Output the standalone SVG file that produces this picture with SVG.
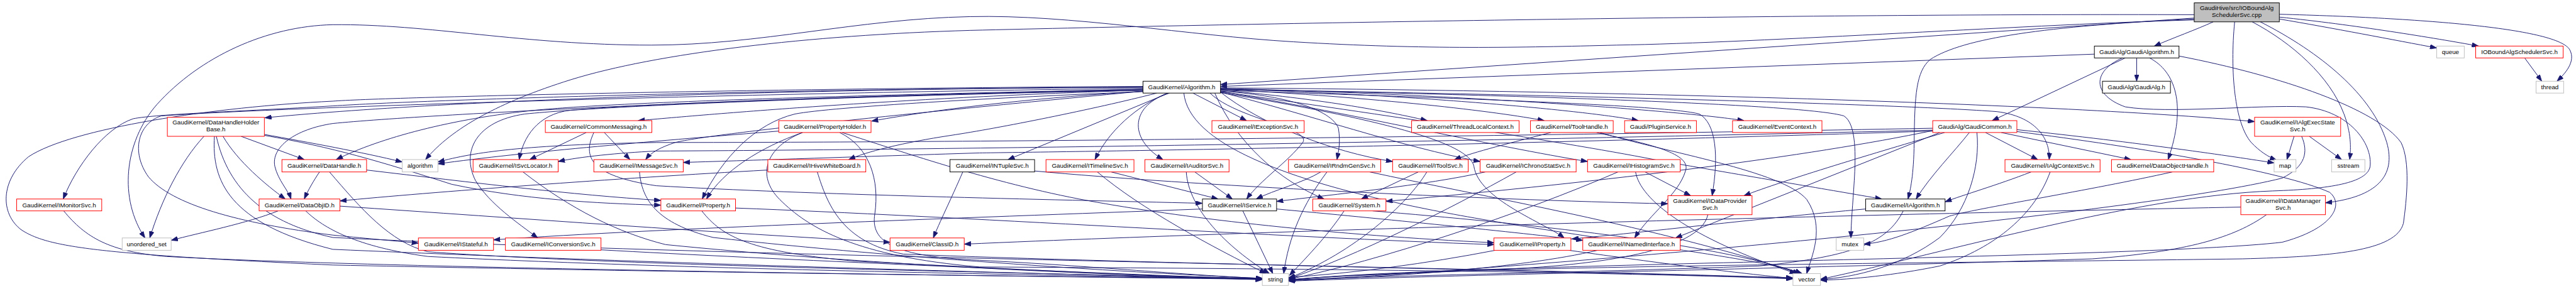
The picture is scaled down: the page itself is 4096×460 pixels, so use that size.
<svg xmlns="http://www.w3.org/2000/svg" width="4096" height="460" viewBox="0 0 4096 460">
<style>
.e{fill:none;stroke:#191970;stroke-width:1.3;marker-end:url(#a)}
rect{stroke-width:1.3;fill:#fff}
.r{stroke:#ff0000}.k{stroke:#000}.g{stroke:#bfbfbf}
text{font-family:"Liberation Sans",Arial,sans-serif;font-size:13px;text-anchor:middle;fill:#000}
</style>
<defs><marker id="a" viewBox="0 0 14 10" refX="14" refY="5" markerWidth="14" markerHeight="10" markerUnits="userSpaceOnUse" orient="auto"><path d="M0,0 L14,5 L0,10 z" fill="#191970" stroke="#191970"/></marker></defs>
<rect x="0" y="0" width="4096" height="460" style="fill:#fff;stroke:none"/>
<g transform="scale(0.756)">
<g id="edges">
<path class="e" d="M4655,46 C4620,62 4570,80 4531,97"/>
<path class="e" d="M4794,40 C4900,58 5040,85 5125,101"/>
<path class="e" d="M4794,36 C4950,52 5120,80 5213,97"/>
<path class="e" d="M4794,30 C5100,38 5380,60 5405,105 C5418,130 5395,155 5378,171"/>
<path class="e" d="M4615,38 L2567,178"/>
<path class="e" d="M4615,31 C3800,28 2600,50 2040,64 C1700,74 1380,112 1200,168 C1050,215 950,270 895,336"/>
<path class="e" d="M4615,42 C4300,50 3700,90 3400,95 C3200,100 3000,105 2720,88 C2500,75 2250,30 2040,35 C1800,40 1600,95 1370,95 C1100,95 900,50 700,52 C560,55 420,120 330,220 C260,300 250,420 305,501"/>
<path class="e" d="M4615,40 C4300,55 4130,80 4060,125 C4030,150 4027,200 4026,300 C4025,370 4018,400 4013,419"/>
<path class="e" d="M4700,46 C4690,150 4700,260 4735,300 C4752,318 4770,330 4788,337"/>
<path class="e" d="M4737,46 C4820,90 4900,160 4930,240 C4945,280 4945,310 4942,336"/>
<path class="e" d="M4754,46 C4880,110 4990,200 5020,300 C5040,370 5000,415 4891,427"/>
<path class="e" d="M4494,122 L4494,171"/>
<path class="e" d="M4470,122 L4190,254"/>
<path class="e" d="M4521,122 C4575,150 4600,220 4560,336"/>
<path class="e" d="M4405,114 L2567,182"/>
<path class="e" d="M4464,122 C4400,150 4400,200 4470,225 C4560,240 4750,220 4850,225 C4940,235 4990,300 4985,350 C4980,385 4900,398 4780,402 C4500,412 4100,530 3829,588"/>
<path class="e" d="M4583,118 C4800,160 5000,230 5050,300 C5070,340 5062,420 5055,470 C5040,530 4900,540 4716,545 C4000,555 3000,560 2710,590"/>
<path class="e" d="M2404,184 C1800,186 1000,205 557,248"/>
<path class="e" d="M2404,183 C1600,188 900,210 700,223 C500,235 330,240 280,250 C220,270 160,350 133,419"/>
<path class="e" d="M2404,186 C1600,195 600,225 339,244 C290,260 275,320 312,372 C360,430 500,470 700,495 C780,503 840,508 880,512"/>
<path class="e" d="M2404,182 C1600,186 800,205 700,213 C450,225 150,270 60,330 C0,380 0,450 45,484 C100,520 200,535 700,558 C1500,575 2300,583 2655,587"/>
<path class="e" d="M2404,188 C1800,200 1300,215 1126,232 C950,250 800,290 707,336"/>
<path class="e" d="M2404,190 C1700,200 900,240 700,260 C620,272 570,310 578,350 C585,380 606,400 612,419"/>
<path class="e" d="M2404,188 C1900,200 1400,215 1200,232 C1130,240 1100,290 1092,336"/>
<path class="e" d="M2404,192 C2000,230 1500,280 1420,300 C1390,310 1370,320 1358,336"/>
<path class="e" d="M2404,190 C1900,205 1500,240 1342,254"/>
<path class="e" d="M2404,192 C2200,205 2000,225 1833,255"/>
<path class="e" d="M2433,196 C2300,230 2100,270 2000,285 C1900,300 1820,320 1785,336"/>
<path class="e" d="M2404,193 C2100,205 1750,225 1672,240 C1590,260 1520,330 1477,419"/>
<path class="e" d="M2458,196 L2120,336"/>
<path class="e" d="M2455,196 C2410,215 2340,260 2303,336"/>
<path class="e" d="M2460,196 C2380,220 2370,290 2446,336"/>
<path class="e" d="M2509,196 L2622,254"/>
<path class="e" d="M2567,190 C2750,205 2900,230 3002,254"/>
<path class="e" d="M2567,188 C2900,205 3150,235 3248,254"/>
<path class="e" d="M2567,187 C3000,200 3350,235 3446,254"/>
<path class="e" d="M2567,186 C3100,200 3550,235 3668,254"/>
<path class="e" d="M2567,185 C3300,190 4300,215 4742,256"/>
<path class="e" d="M2567,188 C3300,200 4000,220 4200,235 C4280,245 4312,290 4310,336"/>
<path class="e" d="M2567,192 C2700,200 2800,230 2815,270 C2820,300 2815,320 2812,336"/>
<path class="e" d="M2567,194 C2650,260 2800,320 2929,340"/>
<path class="e" d="M2567,194 C2750,240 2950,310 3113,340"/>
<path class="e" d="M2567,193 C2800,230 3150,310 3339,340"/>
<path class="e" d="M2567,190 C3000,205 3500,220 3574,240 C3610,260 3615,330 3601,412"/>
<path class="e" d="M2567,193 C2900,240 3300,300 3500,340 C3700,375 3850,400 3958,419"/>
<path class="e" d="M2567,188 C3200,200 3800,220 3878,244 C3905,260 3903,330 3900,380 C3897,430 3893,470 3893,501"/>
<path class="e" d="M2545,196 C2600,250 2760,270 2740,300 C2710,340 2650,380 2622,419"/>
<path class="e" d="M2555,196 C2600,300 2690,380 2785,419"/>
<path class="e" d="M2567,195 C2900,250 3090,300 3100,350 C3110,420 3250,470 3290,501"/>
<path class="e" d="M2404,190 C1900,200 1300,220 1104,240 C1000,255 970,320 1000,380 C1030,430 1090,470 1131,501"/>
<path class="e" d="M2490,196 C2500,300 2700,380 3000,440 C3300,500 3700,540 3790,576"/>
<path class="e" d="M429,287 C380,340 340,420 315,501"/>
<path class="e" d="M469,287 C500,340 560,390 600,419"/>
<path class="e" d="M507,287 L640,336"/>
<path class="e" d="M556,283 C650,300 760,320 846,341"/>
<path class="e" d="M556,285 C700,310 800,340 950,388 C1100,420 1250,428 1390,432"/>
<path class="e" d="M451,287 C445,380 480,470 700,525 C1500,560 2300,578 2655,589"/>
<path class="e" d="M455,287 C480,400 560,470 700,500 C1500,540 3000,560 3771,585"/>
<path class="e" d="M672,362 C660,380 648,400 640,419"/>
<path class="e" d="M771,358 C1000,385 1200,410 1390,422"/>
<path class="e" d="M693,362 C760,440 820,510 900,530 C1300,560 2200,575 2655,587"/>
<path class="e" d="M585,444 C520,470 420,490 360,506"/>
<path class="e" d="M715,434 C1100,460 1500,490 1872,510"/>
<path class="e" d="M643,444 C680,480 750,520 900,540 C1500,570 2300,580 2655,588"/>
<path class="e" d="M134,444 C180,500 230,530 350,540 C800,565 2000,580 2655,588"/>
<path class="e" d="M1233,279 L1114,336"/>
<path class="e" d="M1271,279 L1325,336"/>
<path class="e" d="M1249,279 C1225,330 1240,370 1380,391 C1700,410 2200,420 2529,428"/>
<path class="e" d="M1688,279 C1600,310 1520,360 1486,419"/>
<path class="e" d="M1638,276 C1400,295 1100,320 921,345"/>
<path class="e" d="M1771,279 C1900,320 2100,390 2308,426 C2500,460 2800,495 3142,511"/>
<path class="e" d="M1766,279 C1830,310 1850,380 1840,450 C1830,510 1880,540 2060,548 C2300,560 2500,580 2655,586"/>
<path class="e" d="M1688,279 C1610,310 1590,370 1640,420 C1700,480 1800,540 2060,562 C2600,565 3300,570 3771,587"/>
<path class="e" d="M1615,358 C1300,375 900,405 715,423"/>
<path class="e" d="M1719,362 C1740,430 1770,510 1900,535 C2400,555 3300,570 3771,586"/>
<path class="e" d="M2025,362 C2000,420 1975,470 1963,501"/>
<path class="e" d="M2176,360 C2500,390 3100,420 3508,429"/>
<path class="e" d="M2337,362 L2562,419"/>
<path class="e" d="M2308,362 C2400,440 2550,520 2663,576"/>
<path class="e" d="M2513,362 L2592,419"/>
<path class="e" d="M2495,362 C2500,440 2580,520 2670,576"/>
<path class="e" d="M2778,362 C2740,385 2680,400 2642,419"/>
<path class="e" d="M2791,362 C2740,430 2710,500 2700,576"/>
<path class="e" d="M2881,362 C3100,410 3500,480 3785,576"/>
<path class="e" d="M2983,362 L2863,419"/>
<path class="e" d="M3001,362 C2960,430 2850,530 2710,586"/>
<path class="e" d="M3124,362 C3000,390 2800,410 2685,424"/>
<path class="e" d="M3189,362 C3050,440 2850,540 2710,587"/>
<path class="e" d="M3460,362 L3556,412"/>
<path class="e" d="M3403,362 C3200,450 2900,550 2710,588"/>
<path class="e" d="M3440,362 C3450,420 3550,500 3778,576"/>
<path class="e" d="M2614,444 L2677,576"/>
<path class="e" d="M2685,440 C2900,460 3200,490 3329,506"/>
<path class="e" d="M2529,440 C2000,460 1400,480 1038,505"/>
<path class="e" d="M2827,444 C2790,500 2740,550 2712,580"/>
<path class="e" d="M2887,444 C3200,470 3600,510 3790,576"/>
<path class="e" d="M3592,452 C3580,510 3450,550 3200,565 C3000,575 2800,580 2710,589"/>
<path class="e" d="M4003,444 C3970,510 3900,540 3700,560 C3300,575 2900,580 2710,590"/>
<path class="e" d="M3924,440 C3700,460 3450,490 3306,503"/>
<path class="e" d="M4080,279 L3524,501"/>
<path class="e" d="M4569,362 C4400,400 4150,440 4100,455 C4020,490 3970,510 3920,514"/>
<path class="e" d="M1547,438 C2000,455 2700,500 3142,515"/>
<path class="e" d="M1476,444 C1520,500 1580,530 1800,550 C2200,570 2500,585 2655,588"/>
<path class="e" d="M1345,362 C1350,420 1380,470 1500,500 C1900,545 2400,575 2655,586"/>
<path class="e" d="M1100,362 C1200,440 1300,490 1400,515 C1800,555 2300,580 2655,586"/>
<path class="e" d="M1264,526 C1600,545 2300,575 2655,588"/>
<path class="e" d="M3145,527 C3000,555 2850,575 2710,584"/>
<path class="e" d="M3300,527 C3500,555 3650,575 3771,586"/>
<path class="e" d="M3360,527 C3200,565 2900,585 2710,590"/>
<path class="e" d="M4176,279 L4286,336"/>
<path class="e" d="M4209,279 L4482,336"/>
<path class="e" d="M4142,279 C4110,320 4060,370 4030,419"/>
<path class="e" d="M4090,279 C3950,320 3750,380 3668,412"/>
<path class="e" d="M4242,273 C4500,300 4700,330 4783,343"/>
<path class="e" d="M4242,277 C4500,310 4800,360 4900,405 C4930,430 4910,480 4800,510 C4500,545 3000,555 2710,590"/>
<path class="e" d="M4065,270 C3000,290 2000,300 1380,300 C1100,305 1000,320 921,341"/>
<path class="e" d="M4065,274 C3000,300 2000,315 1380,318 C1300,322 1220,330 1174,340"/>
<path class="e" d="M4065,276 C3000,310 2200,320 2060,322 C1800,330 1600,337 1437,342"/>
<path class="e" d="M4065,275 C3800,330 3400,380 2915,424"/>
<path class="e" d="M4158,279 C4165,350 4140,440 4080,500 C4000,560 3900,585 3829,588"/>
<path class="e" d="M4272,362 C4200,390 4130,410 4091,425"/>
<path class="e" d="M4312,362 C4280,450 4200,520 4080,560 C3980,580 3900,588 3829,590"/>
<path class="e" d="M4825,287 L4810,336"/>
<path class="e" d="M4857,287 L4925,336"/>
<path class="e" d="M4841,287 C4855,320 4850,350 4800,375 C4500,450 3300,560 2710,591"/>
<path class="e" d="M4713,436 C4000,450 2800,480 2028,514"/>
<path class="e" d="M4767,452 C4700,500 4600,530 4400,545 C3800,565 3000,580 2710,592"/>
<path class="e" d="M5310,122 L5346,171"/>
<path class="e" d="M3262,279 C3180,300 3100,320 3059,336"/>
<path class="e" d="M3358,279 C3450,300 3560,320 3545,360 C3530,410 3470,450 3438,501"/>
<path class="e" d="M3365,279 C3500,320 3750,360 3800,420 C3840,480 3810,540 3800,576"/>
</g>
<g id="n_root"><rect x="4615" y="6" width="179" height="40" class="k" style="fill:#bfbfbf"/><text x="4704.5" y="21.5">GaudiHive/src/IOBoundAlg</text><text x="4704.5" y="36">SchedulerSvc.cpp</text></g>
<g id="n_ga"><rect x="4405" y="97" width="178" height="25" class="k"/><text x="4494" y="114">GaudiAlg/GaudiAlgorithm.h</text></g>
<g id="n_galg"><rect x="4422" y="171" width="143" height="25" class="k"/><text x="4493.5" y="188">GaudiAlg/GaudiAlg.h</text></g>
<g id="n_alg"><rect x="2404" y="171" width="163" height="25" class="k"/><text x="2485.5" y="188">GaudiKernel/Algorithm.h</text></g>
<g id="n_q"><rect x="5125" y="97" width="58" height="25" class="g"/><text x="5154" y="114">queue</text></g>
<g id="n_ios"><rect x="5207" y="97" width="184" height="25" class="r"/><text x="5299" y="114">IOBoundAlgSchedulerSvc.h</text></g>
<g id="n_thr"><rect x="5334" y="171" width="58" height="25" class="g"/><text x="5363" y="188">thread</text></g>
<g id="n_dhhb"><rect x="352" y="247" width="204" height="40" class="r"/><text x="454" y="262.5">GaudiKernel/DataHandleHolder</text><text x="454" y="277">Base.h</text></g>
<g id="n_cm"><rect x="1147" y="254" width="224" height="25" class="r"/><text x="1259" y="271">GaudiKernel/CommonMessaging.h</text></g>
<g id="n_ph"><rect x="1638" y="254" width="194" height="25" class="r"/><text x="1735" y="271">GaudiKernel/PropertyHolder.h</text></g>
<g id="n_ies"><rect x="2549" y="254" width="194" height="25" class="r"/><text x="2646" y="271">GaudiKernel/IExceptionSvc.h</text></g>
<g id="n_tlc"><rect x="2969" y="254" width="226" height="25" class="r"/><text x="3082" y="271">GaudiKernel/ThreadLocalContext.h</text></g>
<g id="n_th"><rect x="3219" y="254" width="174" height="25" class="r"/><text x="3306" y="271">GaudiKernel/ToolHandle.h</text></g>
<g id="n_ps"><rect x="3417" y="254" width="151" height="25" class="r"/><text x="3492.5" y="271">Gaudi/PluginService.h</text></g>
<g id="n_ec"><rect x="3644" y="254" width="188" height="25" class="r"/><text x="3738" y="271">GaudiKernel/EventContext.h</text></g>
<g id="n_gc"><rect x="4065" y="254" width="177" height="25" class="r"/><text x="4153.5" y="271">GaudiAlg/GaudiCommon.h</text></g>
<g id="n_aes"><rect x="4742" y="247" width="181" height="40" class="r"/><text x="4832.5" y="262.5">GaudiKernel/IAlgExecState</text><text x="4832.5" y="277">Svc.h</text></g>
<g id="n_dh"><rect x="593" y="336" width="178" height="26" class="r"/><text x="682" y="353.5">GaudiKernel/DataHandle.h</text></g>
<g id="n_algo"><rect x="846" y="336" width="75" height="26" class="g"/><text x="883.5" y="353.5">algorithm</text></g>
<g id="n_sl"><rect x="995" y="336" width="179" height="26" class="r"/><text x="1084.5" y="353.5">GaudiKernel/ISvcLocator.h</text></g>
<g id="n_ms"><rect x="1249" y="336" width="188" height="26" class="r"/><text x="1343" y="353.5">GaudiKernel/IMessageSvc.h</text></g>
<g id="n_hwb"><rect x="1615" y="336" width="206" height="26" class="r"/><text x="1718" y="353.5">GaudiKernel/IHiveWhiteBoard.h</text></g>
<g id="n_nt"><rect x="1998" y="336" width="178" height="26" class="k"/><text x="2087" y="353.5">GaudiKernel/INTupleSvc.h</text></g>
<g id="n_tl"><rect x="2200" y="336" width="185" height="26" class="r"/><text x="2292.5" y="353.5">GaudiKernel/ITimelineSvc.h</text></g>
<g id="n_aud"><rect x="2408" y="336" width="177" height="26" class="r"/><text x="2496.5" y="353.5">GaudiKernel/IAuditorSvc.h</text></g>
<g id="n_rg"><rect x="2710" y="336" width="194" height="26" class="r"/><text x="2807" y="353.5">GaudiKernel/IRndmGenSvc.h</text></g>
<g id="n_ts"><rect x="2929" y="336" width="159" height="26" class="r"/><text x="3008.5" y="353.5">GaudiKernel/IToolSvc.h</text></g>
<g id="n_cs"><rect x="3113" y="336" width="202" height="26" class="r"/><text x="3214" y="353.5">GaudiKernel/IChronoStatSvc.h</text></g>
<g id="n_hs"><rect x="3339" y="336" width="195" height="26" class="r"/><text x="3436.5" y="353.5">GaudiKernel/IHistogramSvc.h</text></g>
<g id="n_acs"><rect x="4217" y="336" width="200" height="26" class="r"/><text x="4317" y="353.5">GaudiKernel/IAlgContextSvc.h</text></g>
<g id="n_doh"><rect x="4441" y="336" width="215" height="26" class="r"/><text x="4548.5" y="353.5">GaudiKernel/DataObjectHandle.h</text></g>
<g id="n_map"><rect x="4783" y="336" width="46" height="26" class="g"/><text x="4806" y="353.5">map</text></g>
<g id="n_ss"><rect x="4904" y="336" width="70" height="26" class="g"/><text x="4939" y="353.5">sstream</text></g>
<g id="n_mon"><rect x="35" y="419" width="179" height="25" class="r"/><text x="124.5" y="436">GaudiKernel/IMonitorSvc.h</text></g>
<g id="n_doid"><rect x="545" y="419" width="170" height="25" class="r"/><text x="630" y="436">GaudiKernel/DataObjID.h</text></g>
<g id="n_prop"><rect x="1390" y="419" width="157" height="25" class="r"/><text x="1468.5" y="436">GaudiKernel/Property.h</text></g>
<g id="n_svc"><rect x="2529" y="419" width="156" height="25" class="k"/><text x="2607" y="436">GaudiKernel/IService.h</text></g>
<g id="n_sys"><rect x="2761" y="419" width="154" height="25" class="r"/><text x="2838" y="436">GaudiKernel/System.h</text></g>
<g id="n_dps"><rect x="3508" y="412" width="177" height="40" class="r"/><text x="3596.5" y="427.5">GaudiKernel/IDataProvider</text><text x="3596.5" y="442">Svc.h</text></g>
<g id="n_ialg"><rect x="3924" y="419" width="167" height="25" class="k"/><text x="4007.5" y="436">GaudiKernel/IAlgorithm.h</text></g>
<g id="n_dms"><rect x="4713" y="412" width="178" height="40" class="r"/><text x="4802" y="427.5">GaudiKernel/IDataManager</text><text x="4802" y="442">Svc.h</text></g>
<g id="n_us"><rect x="257" y="501" width="103" height="26" class="g"/><text x="308.5" y="518.5">unordered_set</text></g>
<g id="n_st"><rect x="880" y="501" width="158" height="26" class="r"/><text x="959" y="518.5">GaudiKernel/IStateful.h</text></g>
<g id="n_conv"><rect x="1063" y="501" width="201" height="26" class="r"/><text x="1163.5" y="518.5">GaudiKernel/IConversionSvc.h</text></g>
<g id="n_cid"><rect x="1872" y="501" width="156" height="26" class="r"/><text x="1950" y="518.5">GaudiKernel/ClassID.h</text></g>
<g id="n_ip"><rect x="3142" y="501" width="162" height="26" class="r"/><text x="3223" y="518.5">GaudiKernel/IProperty.h</text></g>
<g id="n_ni"><rect x="3329" y="501" width="205" height="26" class="r"/><text x="3431.5" y="518.5">GaudiKernel/INamedInterface.h</text></g>
<g id="n_mx"><rect x="3862" y="501" width="58" height="26" class="g"/><text x="3891" y="518.5">mutex</text></g>
<g id="n_str"><rect x="2655" y="576" width="55" height="25" class="g"/><text x="2682.5" y="593">string</text></g>
<g id="n_vec"><rect x="3771" y="576" width="58" height="25" class="g"/><text x="3800" y="593">vector</text></g>
</g>
</svg>
